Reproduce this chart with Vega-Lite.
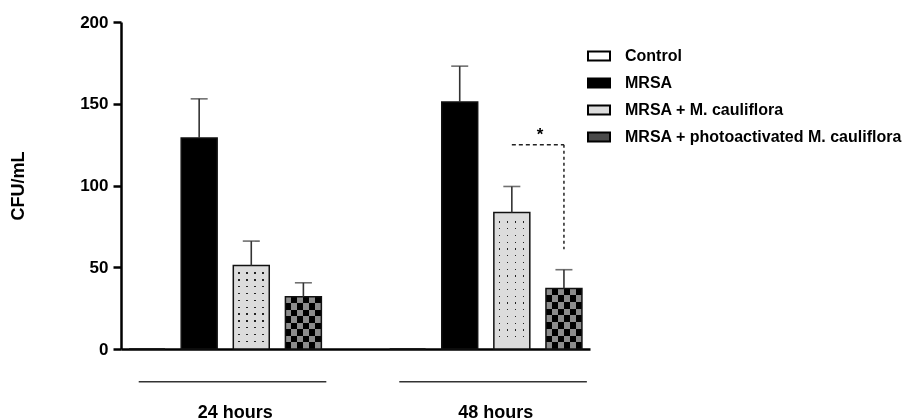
{
  "$schema": "https://vega.github.io/schema/vega-lite/v6.json",
  "width": 469,
  "height": 327,
  "autosize": {"type": "none"},
  "padding": {"left": 121, "top": 22, "right": 330, "bottom": 71},
  "background": "white",
  "config": {"view": {"stroke": null}, "font": "Liberation Sans"},
  "datasets": {
    "bars": [
      {"time": "24 hours", "group": "Control", "mean": 0, "upper": 0},
      {"time": "24 hours", "group": "MRSA", "mean": 129, "upper": 153},
      {"time": "24 hours", "group": "MRSA + M. cauliflora", "mean": 51, "upper": 66},
      {"time": "24 hours", "group": "MRSA + photoactivated M. cauliflora", "mean": 32, "upper": 40.5},
      {"time": "48 hours", "group": "Control", "mean": 0, "upper": 0},
      {"time": "48 hours", "group": "MRSA", "mean": 151, "upper": 173},
      {"time": "48 hours", "group": "MRSA + M. cauliflora", "mean": 83.5, "upper": 99.4},
      {"time": "48 hours", "group": "MRSA + photoactivated M. cauliflora", "mean": 37, "upper": 48.5}
    ],
    "groupline": [{"time": "24 hours", "level": -20}, {"time": "48 hours", "level": -20}],
    "sighoriz": [
      {"time": "48 hours", "group": "MRSA + M. cauliflora", "level": 125},
      {"time": "48 hours", "group": "MRSA + photoactivated M. cauliflora", "level": 125}
    ],
    "sigvert": [
      {"time": "48 hours", "group": "MRSA + photoactivated M. cauliflora", "level": 125},
      {"time": "48 hours", "group": "MRSA + photoactivated M. cauliflora", "level": 61}
    ],
    "star": [{"time": "48 hours", "label": "*", "level": 131}]
  },
  "layer": [
    {
      "data": {"name": "bars"},
      "encoding": {
        "x": {
          "field": "time", "type": "nominal",
          "scale": {"domain": ["24 hours", "48 hours"], "paddingInner": 0.2, "paddingOuter": 0},
          "axis": {
            "title": null, "labelAngle": 0, "ticks": false,
            "domainColor": "black", "domainWidth": 2.5,
            "labelPadding": 54, "labelOffset": 10, "labelFont": "Liberation Sans", "labelFontWeight": "bold",
            "labelFontSize": 18, "labelColor": "black"
          }
        },
        "xOffset": {
          "field": "group", "type": "nominal",
          "scale": {
            "domain": ["Control", "MRSA", "MRSA + M. cauliflora", "MRSA + photoactivated M. cauliflora"],
            "paddingInner": 0.31, "paddingOuter": 0.155
          }
        },
        "y": {
          "field": "mean", "type": "quantitative",
          "scale": {"domain": [0, 200], "nice": false},
          "axis": {
            "title": "CFU/mL", "values": [0, 50, 100, 150, 200], "grid": false,
            "domainColor": "black", "domainWidth": 2.5,
            "tickColor": "black", "tickWidth": 2.5, "tickSize": 8,
            "labelFont": "Liberation Sans", "labelFontWeight": "bold", "labelFontSize": 17,
            "labelColor": "black", "labelPadding": 5,
            "titleFont": "Liberation Sans", "titleFontWeight": "bold", "titleFontSize": 18,
            "titleColor": "black", "titlePadding": 52
          }
        }
      },
      "layer": [
        {
          "mark": {"type": "bar"},
          "encoding": {
            "fill": {
              "field": "group", "type": "nominal",
              "scale": {
                "domain": ["Control", "MRSA", "MRSA + M. cauliflora", "MRSA + photoactivated M. cauliflora"],
                "range": ["#ffffff", "#000000", "#dcdcdc", "#4a4a4a"]
              },
              "legend": {
                "title": null, "orient": "none", "legendX": 466, "legendY": 22,
                "symbolType": "M-1,-0.4H1V0.4H-1Z", "symbolSize": 484,
                "symbolStrokeColor": "black", "symbolStrokeWidth": 2,
                "labelFont": "Liberation Sans", "labelFontWeight": "bold", "labelFontSize": 16,
                "labelColor": "black", "labelOffset": 14, "rowPadding": 6, "labelLimit": 400
              }
            }
          }
        },
        {
          "transform": [{"filter": "datum.group === 'MRSA + M. cauliflora'"}],
          "mark": {
            "type": "bar",
            "fill": {
              "gradient": "linear", "x1": 0, "y1": 0, "x2": 1, "y2": 0,
              "stops": [
                {"offset": 0, "color": "#dcdcdc"}, {"offset": 0.14, "color": "#dcdcdc"},
                {"offset": 0.14, "color": "#222222"}, {"offset": 0.18, "color": "#222222"},
                {"offset": 0.18, "color": "#dcdcdc"}, {"offset": 0.36, "color": "#dcdcdc"},
                {"offset": 0.36, "color": "#222222"}, {"offset": 0.40, "color": "#222222"},
                {"offset": 0.40, "color": "#dcdcdc"}, {"offset": 0.58, "color": "#dcdcdc"},
                {"offset": 0.58, "color": "#222222"}, {"offset": 0.62, "color": "#222222"},
                {"offset": 0.62, "color": "#dcdcdc"}, {"offset": 0.80, "color": "#dcdcdc"},
                {"offset": 0.80, "color": "#222222"}, {"offset": 0.84, "color": "#222222"},
                {"offset": 0.84, "color": "#dcdcdc"}, {"offset": 1, "color": "#dcdcdc"}
              ]
            }
          }
        },
        {
          "transform": [{"filter": "datum.group === 'MRSA + M. cauliflora' && datum.time === '24 hours'"}],
          "mark": {
            "type": "bar", "blend": "lighten",
            "fill": {
              "gradient": "linear", "x1": 0, "y1": 0, "x2": 0, "y2": 1,
              "stops": [
                {"offset": 0, "color": "#dcdcdc"},
                {"offset": 0.082, "color": "#dcdcdc"}, {"offset": 0.082, "color": "#222222"}, {"offset": 0.098, "color": "#222222"}, {"offset": 0.098, "color": "#dcdcdc"},
                {"offset": 0.164, "color": "#dcdcdc"}, {"offset": 0.164, "color": "#222222"}, {"offset": 0.180, "color": "#222222"}, {"offset": 0.180, "color": "#dcdcdc"},
                {"offset": 0.246, "color": "#dcdcdc"}, {"offset": 0.246, "color": "#222222"}, {"offset": 0.262, "color": "#222222"}, {"offset": 0.262, "color": "#dcdcdc"},
                {"offset": 0.328, "color": "#dcdcdc"}, {"offset": 0.328, "color": "#222222"}, {"offset": 0.344, "color": "#222222"}, {"offset": 0.344, "color": "#dcdcdc"},
                {"offset": 0.410, "color": "#dcdcdc"}, {"offset": 0.410, "color": "#222222"}, {"offset": 0.426, "color": "#222222"}, {"offset": 0.426, "color": "#dcdcdc"},
                {"offset": 0.492, "color": "#dcdcdc"}, {"offset": 0.492, "color": "#222222"}, {"offset": 0.508, "color": "#222222"}, {"offset": 0.508, "color": "#dcdcdc"},
                {"offset": 0.574, "color": "#dcdcdc"}, {"offset": 0.574, "color": "#222222"}, {"offset": 0.590, "color": "#222222"}, {"offset": 0.590, "color": "#dcdcdc"},
                {"offset": 0.656, "color": "#dcdcdc"}, {"offset": 0.656, "color": "#222222"}, {"offset": 0.672, "color": "#222222"}, {"offset": 0.672, "color": "#dcdcdc"},
                {"offset": 0.738, "color": "#dcdcdc"}, {"offset": 0.738, "color": "#222222"}, {"offset": 0.754, "color": "#222222"}, {"offset": 0.754, "color": "#dcdcdc"},
                {"offset": 0.820, "color": "#dcdcdc"}, {"offset": 0.820, "color": "#222222"}, {"offset": 0.836, "color": "#222222"}, {"offset": 0.836, "color": "#dcdcdc"},
                {"offset": 0.902, "color": "#dcdcdc"}, {"offset": 0.902, "color": "#222222"}, {"offset": 0.918, "color": "#222222"}, {"offset": 0.918, "color": "#dcdcdc"},
                {"offset": 1, "color": "#dcdcdc"}
              ]
            }
          }
        },
        {
          "transform": [{"filter": "datum.group === 'MRSA + M. cauliflora' && datum.time === '48 hours'"}],
          "mark": {
            "type": "bar", "blend": "lighten",
            "fill": {
              "gradient": "linear", "x1": 0, "y1": 0, "x2": 0, "y2": 1,
              "stops": [
                {"offset": 0, "color": "#dcdcdc"},
                {"offset": 0.065, "color": "#dcdcdc"}, {"offset": 0.065, "color": "#222222"}, {"offset": 0.075, "color": "#222222"}, {"offset": 0.075, "color": "#dcdcdc"},
                {"offset": 0.114, "color": "#dcdcdc"}, {"offset": 0.114, "color": "#222222"}, {"offset": 0.124, "color": "#222222"}, {"offset": 0.124, "color": "#dcdcdc"},
                {"offset": 0.164, "color": "#dcdcdc"}, {"offset": 0.164, "color": "#222222"}, {"offset": 0.174, "color": "#222222"}, {"offset": 0.174, "color": "#dcdcdc"},
                {"offset": 0.213, "color": "#dcdcdc"}, {"offset": 0.213, "color": "#222222"}, {"offset": 0.223, "color": "#222222"}, {"offset": 0.223, "color": "#dcdcdc"},
                {"offset": 0.263, "color": "#dcdcdc"}, {"offset": 0.263, "color": "#222222"}, {"offset": 0.273, "color": "#222222"}, {"offset": 0.273, "color": "#dcdcdc"},
                {"offset": 0.312, "color": "#dcdcdc"}, {"offset": 0.312, "color": "#222222"}, {"offset": 0.322, "color": "#222222"}, {"offset": 0.322, "color": "#dcdcdc"},
                {"offset": 0.361, "color": "#dcdcdc"}, {"offset": 0.361, "color": "#222222"}, {"offset": 0.371, "color": "#222222"}, {"offset": 0.371, "color": "#dcdcdc"},
                {"offset": 0.411, "color": "#dcdcdc"}, {"offset": 0.411, "color": "#222222"}, {"offset": 0.421, "color": "#222222"}, {"offset": 0.421, "color": "#dcdcdc"},
                {"offset": 0.460, "color": "#dcdcdc"}, {"offset": 0.460, "color": "#222222"}, {"offset": 0.470, "color": "#222222"}, {"offset": 0.470, "color": "#dcdcdc"},
                {"offset": 0.510, "color": "#dcdcdc"}, {"offset": 0.510, "color": "#222222"}, {"offset": 0.520, "color": "#222222"}, {"offset": 0.520, "color": "#dcdcdc"},
                {"offset": 0.559, "color": "#dcdcdc"}, {"offset": 0.559, "color": "#222222"}, {"offset": 0.569, "color": "#222222"}, {"offset": 0.569, "color": "#dcdcdc"},
                {"offset": 0.609, "color": "#dcdcdc"}, {"offset": 0.609, "color": "#222222"}, {"offset": 0.619, "color": "#222222"}, {"offset": 0.619, "color": "#dcdcdc"},
                {"offset": 0.658, "color": "#dcdcdc"}, {"offset": 0.658, "color": "#222222"}, {"offset": 0.668, "color": "#222222"}, {"offset": 0.668, "color": "#dcdcdc"},
                {"offset": 0.707, "color": "#dcdcdc"}, {"offset": 0.707, "color": "#222222"}, {"offset": 0.717, "color": "#222222"}, {"offset": 0.717, "color": "#dcdcdc"},
                {"offset": 0.757, "color": "#dcdcdc"}, {"offset": 0.757, "color": "#222222"}, {"offset": 0.767, "color": "#222222"}, {"offset": 0.767, "color": "#dcdcdc"},
                {"offset": 0.806, "color": "#dcdcdc"}, {"offset": 0.806, "color": "#222222"}, {"offset": 0.816, "color": "#222222"}, {"offset": 0.816, "color": "#dcdcdc"},
                {"offset": 0.856, "color": "#dcdcdc"}, {"offset": 0.856, "color": "#222222"}, {"offset": 0.866, "color": "#222222"}, {"offset": 0.866, "color": "#dcdcdc"},
                {"offset": 0.905, "color": "#dcdcdc"}, {"offset": 0.905, "color": "#222222"}, {"offset": 0.915, "color": "#222222"}, {"offset": 0.915, "color": "#dcdcdc"},
                {"offset": 1, "color": "#dcdcdc"}
              ]
            }
          }
        },
        {
          "transform": [{"filter": "datum.group === 'MRSA + photoactivated M. cauliflora'"}],
          "mark": {
            "type": "bar",
            "fill": {
              "gradient": "linear", "x1": 0, "y1": 0, "x2": 1, "y2": 0,
              "stops": [
                {"offset": 0, "color": "#000000"}, {"offset": 0.1667, "color": "#000000"},
                {"offset": 0.1667, "color": "#8c8c8c"}, {"offset": 0.3333, "color": "#8c8c8c"},
                {"offset": 0.3333, "color": "#000000"}, {"offset": 0.5, "color": "#000000"},
                {"offset": 0.5, "color": "#8c8c8c"}, {"offset": 0.6667, "color": "#8c8c8c"},
                {"offset": 0.6667, "color": "#000000"}, {"offset": 0.8333, "color": "#000000"},
                {"offset": 0.8333, "color": "#8c8c8c"}, {"offset": 1, "color": "#8c8c8c"}
              ]
            }
          }
        },
        {
          "transform": [{"filter": "datum.group === 'MRSA + photoactivated M. cauliflora' && datum.time === '24 hours'"}],
          "mark": {
            "type": "bar", "blend": "difference",
            "fill": {
              "gradient": "linear", "x1": 0, "y1": 0, "x2": 0, "y2": 1,
              "stops": [
                {"offset": 0, "color": "#8c8c8c"}, {"offset": 0.125, "color": "#8c8c8c"},
                {"offset": 0.125, "color": "#000000"}, {"offset": 0.25, "color": "#000000"},
                {"offset": 0.25, "color": "#8c8c8c"}, {"offset": 0.375, "color": "#8c8c8c"},
                {"offset": 0.375, "color": "#000000"}, {"offset": 0.5, "color": "#000000"},
                {"offset": 0.5, "color": "#8c8c8c"}, {"offset": 0.625, "color": "#8c8c8c"},
                {"offset": 0.625, "color": "#000000"}, {"offset": 0.75, "color": "#000000"},
                {"offset": 0.75, "color": "#8c8c8c"}, {"offset": 0.875, "color": "#8c8c8c"},
                {"offset": 0.875, "color": "#000000"}, {"offset": 1, "color": "#000000"}
              ]
            }
          }
        },
        {
          "transform": [{"filter": "datum.group === 'MRSA + photoactivated M. cauliflora' && datum.time === '48 hours'"}],
          "mark": {
            "type": "bar", "blend": "difference",
            "fill": {
              "gradient": "linear", "x1": 0, "y1": 0, "x2": 0, "y2": 1,
              "stops": [
                {"offset": 0, "color": "#8c8c8c"}, {"offset": 0.1111, "color": "#8c8c8c"},
                {"offset": 0.1111, "color": "#000000"}, {"offset": 0.2222, "color": "#000000"},
                {"offset": 0.2222, "color": "#8c8c8c"}, {"offset": 0.3333, "color": "#8c8c8c"},
                {"offset": 0.3333, "color": "#000000"}, {"offset": 0.4444, "color": "#000000"},
                {"offset": 0.4444, "color": "#8c8c8c"}, {"offset": 0.5556, "color": "#8c8c8c"},
                {"offset": 0.5556, "color": "#000000"}, {"offset": 0.6667, "color": "#000000"},
                {"offset": 0.6667, "color": "#8c8c8c"}, {"offset": 0.7778, "color": "#8c8c8c"},
                {"offset": 0.7778, "color": "#000000"}, {"offset": 0.8889, "color": "#000000"},
                {"offset": 0.8889, "color": "#8c8c8c"}, {"offset": 1, "color": "#8c8c8c"}
              ]
            }
          }
        },
        {
          "mark": {"type": "bar", "fillOpacity": 0, "stroke": "#111111", "strokeWidth": 1.5}
        },
        {
          "transform": [{"filter": "datum.group !== 'Control'"}],
          "mark": {"type": "rule", "color": "#333333", "strokeWidth": 1.6},
          "encoding": {"y2": {"field": "upper"}}
        },
        {
          "transform": [{"filter": "datum.group !== 'Control'"}],
          "mark": {"type": "tick", "color": "#333333", "thickness": 1.6, "size": 17},
          "encoding": {"y": {"field": "upper", "type": "quantitative"}}
        }
      ]
    },
    {
      "data": {"name": "groupline"},
      "mark": {"type": "rule", "color": "#333333", "strokeWidth": 1.5, "clip": false},
      "encoding": {
        "x": {"field": "time", "type": "nominal", "bandPosition": 0.085},
        "x2": {"field": "time", "bandPosition": 0.985},
        "y": {"field": "level", "type": "quantitative", "scale": {"domain": [0, 200], "nice": false}}
      }
    },
    {
      "data": {"name": "sighoriz"},
      "mark": {"type": "line", "color": "#222222", "strokeWidth": 1.5, "strokeDash": [4, 3]},
      "encoding": {
        "x": {"field": "time", "type": "nominal"},
        "xOffset": {"field": "group", "type": "nominal"},
        "y": {"field": "level", "type": "quantitative"}
      }
    },
    {
      "data": {"name": "sigvert"},
      "mark": {"type": "line", "color": "#222222", "strokeWidth": 1.5, "strokeDash": [3, 3]},
      "encoding": {
        "x": {"field": "time", "type": "nominal"},
        "xOffset": {"field": "group", "type": "nominal"},
        "y": {"field": "level", "type": "quantitative"}
      }
    },
    {
      "data": {"name": "star"},
      "mark": {"type": "text", "font": "Liberation Sans", "fontWeight": "bold", "fontSize": 17, "color": "black", "baseline": "middle"},
      "encoding": {
        "x": {"field": "time", "type": "nominal", "bandPosition": 0.76},
        "y": {"field": "level", "type": "quantitative"},
        "text": {"field": "label"}
      }
    }
  ]
}
